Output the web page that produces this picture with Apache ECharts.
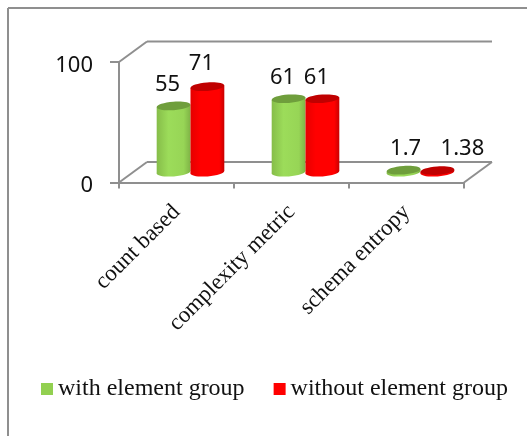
<!DOCTYPE html>
<html>
<head>
<meta charset="utf-8">
<style>html,body{margin:0;padding:0;background:#fff}#c{width:527px;height:436px}</style>
<script src="https://cdn.jsdelivr.net/npm/echarts@6/dist/echarts.min.js"></script>
</head>
<body>
<div id="c"></div>
<script>
const categories = ['count based', 'complexity metric', 'schema entropy'];
const withGroup = [55, 61, 1.7];
const withoutGroup = [71, 61, 1.38];
const yTicks = [0, 100];

const GRAY = '#8f8f8f';
const SERIF = '"Liberation Serif", serif';
const SANS = '"Noto Sans", sans-serif';
const depthX = 28, depthY = 20.5;
const chart = echarts.init(document.getElementById('c'));

function cylinder(side, stops, topColor, nudges) {
  return function (params, api) {
    const idx = api.value(0), val = api.value(1);
    const band = api.size([1, 0])[0];
    const base = api.coord([idx, 0]);
    const top = api.coord([idx, val]);
    const r = band * 0.147;
    const ry = 4.2;
    const tilt = 0.07;
    const t = r * Math.sin(tilt);
    const cx = base[0] + depthX / 2 + side * r;
    const by = base[1] - depthY / 2;
    const ty = top[1] - depthY / 2;
    const fill = new echarts.graphic.LinearGradient(0, 0, 1, 0, stops);
    const [nx, ny] = nudges[idx];
    return {
      type: 'group',
      children: [
        { type: 'ellipse', shape: { cx, cy: by, rx: r, ry }, rotation: tilt, originX: cx, originY: by, style: { fill } },
        { type: 'polygon', shape: { points: [[cx - r, ty + t], [cx + r, ty - t], [cx + r, by - t], [cx - r, by + t]] }, style: { fill } },
        { type: 'ellipse', shape: { cx, cy: ty, rx: r, ry }, rotation: tilt, originX: cx, originY: ty, style: { fill: topColor } },
        { type: 'text', x: cx + nx, y: ty + ny, style: { text: String(val), font: '22px ' + SANS, fill: '#111', textAlign: 'center', textVerticalAlign: 'middle' } }
      ]
    };
  };
}

function walls(params, api) {
  const { x, y, width: w, height: h } = params.coordSys;
  const line = (x1, y1, x2, y2) => ({ type: 'line', shape: { x1, y1, x2, y2 }, style: { stroke: GRAY, lineWidth: 2 } });
  const b = y + h;
  return {
    type: 'group',
    children: [
      line(x, y, x + depthX, y - depthY),
      line(x + depthX, y - depthY, x + w + depthX, y - depthY),
      line(x, b, x + depthX, b - depthY),
      line(x + depthX, b - depthY, x + w + depthX, b - depthY),
      line(x + w, b, x + w + depthX, b - depthY)
    ]
  };
}

chart.setOption({
  animation: false,
  backgroundColor: '#fff',
  graphic: [
    { type: 'line', shape: { x1: 8, y1: 8, x2: 527, y2: 8 }, style: { stroke: GRAY, lineWidth: 2 }, silent: true },
    { type: 'line', shape: { x1: 8, y1: 8, x2: 8, y2: 436 }, style: { stroke: GRAY, lineWidth: 2 }, silent: true }
  ],
  grid: { left: 119, right: 63, top: 62, bottom: 253.5 },
  legend: {
    left: 41, top: 377, padding: 0, itemWidth: 12, itemHeight: 12, itemGap: 29,
    icon: 'rect',
    data: ['with element group', 'without element group'],
    textStyle: { fontFamily: SERIF, fontSize: 24, color: '#111' }
  },
  xAxis: {
    type: 'category', data: categories,
    axisLine: { lineStyle: { color: GRAY, width: 2 } },
    axisTick: { show: true, length: 6, lineStyle: { color: GRAY, width: 2 } },
    axisLabel: { rotate: 45, fontFamily: SERIF, fontSize: 23, color: '#111', margin: 26, interval: 0 }
  },
  yAxis: {
    type: 'value', min: yTicks[0], max: yTicks[1], interval: yTicks[1],
    splitLine: { show: false },
    axisLine: { show: true, lineStyle: { color: GRAY, width: 2 } },
    axisTick: { show: true, length: 9, lineStyle: { color: GRAY, width: 2 } },
    axisLabel: {
      margin: 26,
      formatter: '{a|{value}}',
      rich: { a: { fontFamily: SANS, fontSize: 22, color: '#111', padding: [7, 0, 0, 0] } }
    }
  },
  series: [
    { type: 'custom', name: 'walls', silent: true, z: 1, data: [[0, 0]], renderItem: walls },
    {
      type: 'custom', name: 'with element group', z: 2,
      itemStyle: { color: '#92d050' },
      data: withGroup.map((v, i) => [i, v]),
      encode: { x: 0, y: 1 },
      renderItem: cylinder(-1, [
        { offset: 0, color: '#86bd49' }, { offset: 0.35, color: '#9cdc5a' },
        { offset: 0.8, color: '#97d556' }, { offset: 1, color: '#7fb346' }
      ], '#6f9e3c', [[-6, -21.5], [-6, -21.5], [2, -21.5]])
    },
    {
      type: 'custom', name: 'without element group', z: 3,
      itemStyle: { color: '#ff0000' },
      data: withoutGroup.map((v, i) => [i, v]),
      encode: { x: 0, y: 1 },
      renderItem: cylinder(1, [
        { offset: 0, color: '#e60000' }, { offset: 0.3, color: '#ff0000' },
        { offset: 0.85, color: '#ff0000' }, { offset: 1, color: '#c80000' }
      ], '#c00000', [[-6, -22.5], [-6, -21.5], [25, -21.5]])
    }
  ]
});
</script>
</body>
</html>
